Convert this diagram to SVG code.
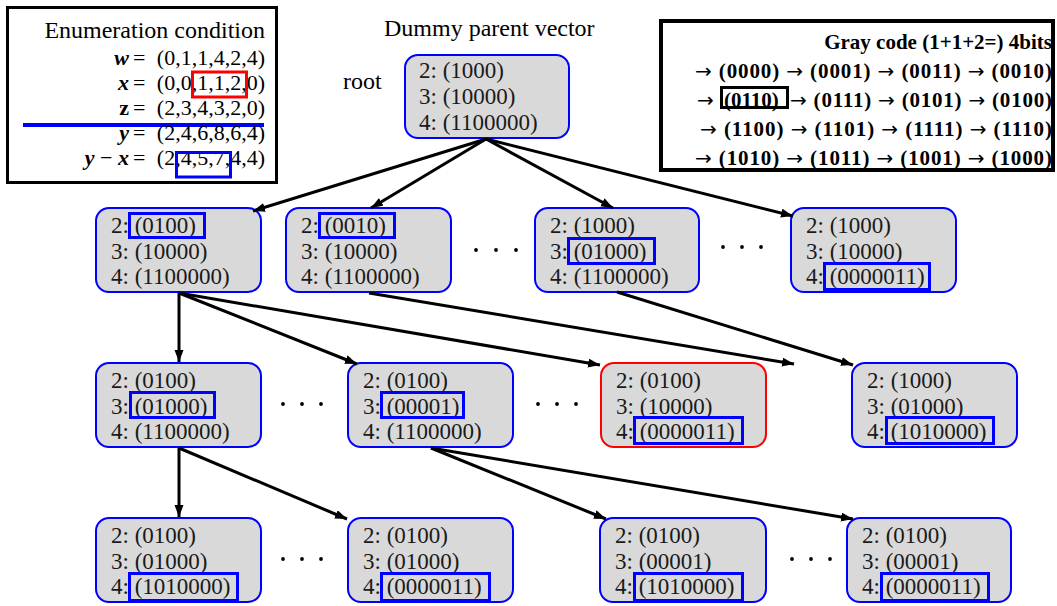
<svg xmlns="http://www.w3.org/2000/svg" width="1057" height="606" viewBox="0 0 1057 606">
  <defs>
    <style>
      .serif { font-family: "Liberation Serif", "Times New Roman", serif; fill: #000; }
      .label { font-size: 24px; }
      .math { font-size: 22px; }
      .gray { font-size: 21px; font-weight: bold; }
      .arr { font-family: "DejaVu Sans", sans-serif; font-weight: normal; font-size: 20px; }
      .node rect.box { fill: #D9D9D9; stroke: #0000FF; stroke-width: 2; }
      .node.red rect.box { stroke: #FF0000; }
      .node text { font-family: "Liberation Serif", "Times New Roman", serif; font-size: 23px; fill: #1a1a1a; }
      .hl { fill: none; stroke: #0000FF; stroke-width: 3; }
      .edge { stroke: #000; stroke-width: 3; fill: none; marker-end: url(#arrow); }
      .dots circle { fill: #000; }
      .bv { font-weight: bold; font-style: italic; }
    </style>
    <marker id="arrow" markerUnits="userSpaceOnUse" markerWidth="13" markerHeight="10" refX="12" refY="4.5" orient="auto">
      <path d="M0,0 L12,4.5 L0,9 Z" fill="#000"/>
    </marker>
  </defs>

  <rect width="1057" height="606" fill="#FFFFFF"/>

  <!-- enumeration condition panel -->
  <g id="enumeration-condition">
    <rect x="7.5" y="7.5" width="269" height="175" fill="#FFFFFF" stroke="#000" stroke-width="3"/>
    <text class="serif label" x="265" y="38" text-anchor="end">Enumeration condition</text>
    <line x1="23" y1="125" x2="264" y2="125" stroke="#0000FF" stroke-width="4"/>
    <!-- variable names -->
    <text class="serif math" x="129" y="65" text-anchor="end"><tspan class="bv">w</tspan></text>
    <text class="serif math" x="129" y="90" text-anchor="end"><tspan class="bv">x</tspan></text>
    <text class="serif math" x="129" y="115" text-anchor="end"><tspan font-weight="bold">z</tspan></text>
    <text class="serif math" x="129" y="140" text-anchor="end"><tspan class="bv">y</tspan></text>
    <text class="serif math" x="129" y="165" text-anchor="end"><tspan class="bv">y</tspan> − <tspan class="bv">x</tspan></text>
    <!-- equals signs -->
    <text class="serif math" x="133" y="65">=</text>
    <text class="serif math" x="133" y="90">=</text>
    <text class="serif math" x="133" y="115">=</text>
    <text class="serif math" x="133" y="140">=</text>
    <text class="serif math" x="133" y="165">=</text>
    <!-- vectors -->
    <text class="serif math" x="265" y="65" text-anchor="end">(0,1,1,4,2,4)</text>
    <text class="serif math" x="265" y="90" text-anchor="end">(0,0,1,1,2,0)</text>
    <text class="serif math" x="265" y="115" text-anchor="end">(2,3,4,3,2,0)</text>
    <text class="serif math" x="265" y="140" text-anchor="end">(2,4,6,8,6,4)</text>
    <text class="serif math" x="265" y="165" text-anchor="end">(2,4,5,7,4,4)</text>
    <rect x="192.5" y="72" width="54" height="25" fill="none" stroke="#FF0000" stroke-width="3"/>
    <rect x="176.5" y="152.5" width="54" height="24.5" fill="none" stroke="#0000FF" stroke-width="3"/>
  </g>

  <!-- gray code panel -->
  <g id="gray-code">
    <rect x="661" y="21" width="392" height="149" fill="#FFFFFF" stroke="#000" stroke-width="4"/>
    <text class="serif gray" x="1052" y="49" text-anchor="end">Gray code (1+1+2=) 4bits</text>
    <text class="serif gray" x="695" y="78" textLength="357" lengthAdjust="spacing"><tspan class="arr">→</tspan> (0000) <tspan class="arr">→</tspan> (0001) <tspan class="arr">→</tspan> (0011) <tspan class="arr">→</tspan> (0010)</text>
    <text class="serif gray" x="697" y="107"><tspan class="arr">→</tspan></text>
    <text class="serif gray" x="724" y="107">(0110)</text>
    <text class="serif gray" x="790" y="107" textLength="262" lengthAdjust="spacing"><tspan class="arr">→</tspan> (0111) <tspan class="arr">→</tspan> (0101) <tspan class="arr">→</tspan> (0100)</text>
    <text class="serif gray" x="700" y="136" textLength="352" lengthAdjust="spacing"><tspan class="arr">→</tspan> (1100) <tspan class="arr">→</tspan> (1101) <tspan class="arr">→</tspan> (1111) <tspan class="arr">→</tspan> (1110)</text>
    <text class="serif gray" x="695" y="165" textLength="357" lengthAdjust="spacing"><tspan class="arr">→</tspan> (1010) <tspan class="arr">→</tspan> (1011) <tspan class="arr">→</tspan> (1001) <tspan class="arr">→</tspan> (1000)</text>
    <rect x="721.5" y="87.5" width="66" height="20" fill="none" stroke="#000" stroke-width="3"/>
  </g>

  <text id="title" class="serif label" x="384" y="36">Dummy parent vector</text>
  <text id="root-label" class="serif label" x="343" y="89">root</text>

  <!-- tree nodes -->
  <g id="node-root" class="node">
    <rect class="box" x="405" y="55" width="164" height="83" rx="13"/>
    <text x="419" y="78">2: (1000)</text>
    <text x="419" y="104">3: (10000)</text>
    <text x="419" y="130">4: (1100000)</text>
  </g>

  <g id="node-a" class="node">
    <rect class="box" x="96" y="208" width="165" height="84" rx="13"/>
    <text x="111" y="233">2: (0100)</text>
    <text x="111" y="258.5">3: (10000)</text>
    <text x="111" y="284">4: (1100000)</text>
    <rect class="hl" x="129.5" y="213.5" width="75" height="24"/>
  </g>
  <g id="node-b" class="node">
    <rect class="box" x="286" y="208" width="165" height="84" rx="13"/>
    <text x="301" y="233">2: (0010)</text>
    <text x="301" y="258.5">3: (10000)</text>
    <text x="301" y="284">4: (1100000)</text>
    <rect class="hl" x="319.5" y="213.5" width="75" height="24"/>
  </g>
  <g id="node-c" class="node">
    <rect class="box" x="535" y="208" width="164" height="84" rx="13"/>
    <text x="550" y="233">2: (1000)</text>
    <text x="550" y="258.5">3: (01000)</text>
    <text x="550" y="284">4: (1100000)</text>
    <rect class="hl" x="568.5" y="238.5" width="86" height="25"/>
  </g>
  <g id="node-d" class="node">
    <rect class="box" x="791" y="208" width="165" height="84" rx="13"/>
    <text x="806" y="233">2: (1000)</text>
    <text x="806" y="258.5">3: (10000)</text>
    <text x="806" y="284">4: (0000011)</text>
    <rect class="hl" x="824.5" y="263.5" width="105" height="26"/>
  </g>

  <g id="node-e" class="node">
    <rect class="box" x="96" y="363" width="165" height="84" rx="13"/>
    <text x="111" y="388">2: (0100)</text>
    <text x="111" y="413.5">3: (01000)</text>
    <text x="111" y="439">4: (1100000)</text>
    <rect class="hl" x="130.5" y="392.5" width="84" height="25"/>
  </g>
  <g id="node-f" class="node">
    <rect class="box" x="348" y="363" width="165" height="84" rx="13"/>
    <text x="363" y="388">2: (0100)</text>
    <text x="363" y="413.5">3: (00001)</text>
    <text x="363" y="439">4: (1100000)</text>
    <rect class="hl" x="381.5" y="392.5" width="82" height="25"/>
  </g>
  <g id="node-g" class="node red">
    <rect class="box" x="601" y="363" width="165" height="84" rx="13"/>
    <text x="616" y="388">2: (0100)</text>
    <text x="616" y="413.5">3: (10000)</text>
    <text x="616" y="439">4: (0000011)</text>
    <rect class="hl" x="634.5" y="417.5" width="108" height="26"/>
  </g>
  <g id="node-h" class="node">
    <rect class="box" x="852" y="363" width="165" height="84" rx="13"/>
    <text x="867" y="388">2: (1000)</text>
    <text x="867" y="413.5">3: (01000)</text>
    <text x="867" y="439">4: (1010000)</text>
    <rect class="hl" x="886.5" y="417.5" width="107" height="26"/>
  </g>

  <g id="node-i" class="node">
    <rect class="box" x="96" y="518" width="165" height="84" rx="13"/>
    <text x="111" y="543">2: (0100)</text>
    <text x="111" y="568.5">3: (01000)</text>
    <text x="111" y="594">4: (1010000)</text>
    <rect class="hl" x="129.5" y="573.5" width="108" height="27"/>
  </g>
  <g id="node-j" class="node">
    <rect class="box" x="348" y="518" width="165" height="84" rx="13"/>
    <text x="363" y="543">2: (0100)</text>
    <text x="363" y="568.5">3: (01000)</text>
    <text x="363" y="594">4: (0000011)</text>
    <rect class="hl" x="381.5" y="573.5" width="108" height="27"/>
  </g>
  <g id="node-k" class="node">
    <rect class="box" x="600" y="518" width="166" height="84" rx="13"/>
    <text x="615" y="543">2: (0100)</text>
    <text x="615" y="568.5">3: (00001)</text>
    <text x="615" y="594">4: (1010000)</text>
    <rect class="hl" x="634.5" y="573.5" width="108" height="27"/>
  </g>
  <g id="node-l" class="node">
    <rect class="box" x="847" y="518" width="164" height="84" rx="13"/>
    <text x="862" y="543">2: (0100)</text>
    <text x="862" y="568.5">3: (00001)</text>
    <text x="862" y="594">4: (0000011)</text>
    <rect class="hl" x="881.5" y="573.5" width="107" height="27"/>
  </g>

  <!-- ellipses between sibling nodes -->
  <g id="ellipses" class="dots">
    <circle cx="476" cy="250" r="1.9"/><circle cx="496" cy="250" r="1.9"/><circle cx="516" cy="250" r="1.9"/>
    <circle cx="723" cy="247" r="1.9"/><circle cx="742" cy="247" r="1.9"/><circle cx="761" cy="247" r="1.9"/>
    <circle cx="283" cy="404" r="1.9"/><circle cx="302" cy="404" r="1.9"/><circle cx="321" cy="404" r="1.9"/>
    <circle cx="538" cy="404" r="1.9"/><circle cx="557" cy="404" r="1.9"/><circle cx="576" cy="404" r="1.9"/>
    <circle cx="283" cy="559" r="1.9"/><circle cx="302" cy="559" r="1.9"/><circle cx="321" cy="559" r="1.9"/>
    <circle cx="792" cy="559" r="1.9"/><circle cx="811" cy="559" r="1.9"/><circle cx="830" cy="559" r="1.9"/>
  </g>

  <!-- connectors -->
  <g id="connectors">
    <line class="edge" x1="486" y1="139" x2="253" y2="211"/>
    <line class="edge" x1="486" y1="139" x2="371" y2="208"/>
    <line class="edge" x1="486" y1="139" x2="613" y2="208"/>
    <line class="edge" x1="486" y1="139" x2="793" y2="216"/>
    <line class="edge" x1="179" y1="293" x2="179" y2="362"/>
    <line class="edge" x1="179" y1="293" x2="357" y2="364"/>
    <line class="edge" x1="179" y1="293" x2="600" y2="365"/>
    <line class="edge" x1="369" y1="293" x2="794" y2="364"/>
    <line class="edge" x1="617" y1="292" x2="853" y2="365"/>
    <line class="edge" x1="179" y1="448" x2="179" y2="517"/>
    <line class="edge" x1="179" y1="448" x2="347" y2="519"/>
    <line class="edge" x1="431" y1="448" x2="606" y2="519"/>
    <line class="edge" x1="431" y1="448" x2="853" y2="519"/>
  </g>
</svg>
